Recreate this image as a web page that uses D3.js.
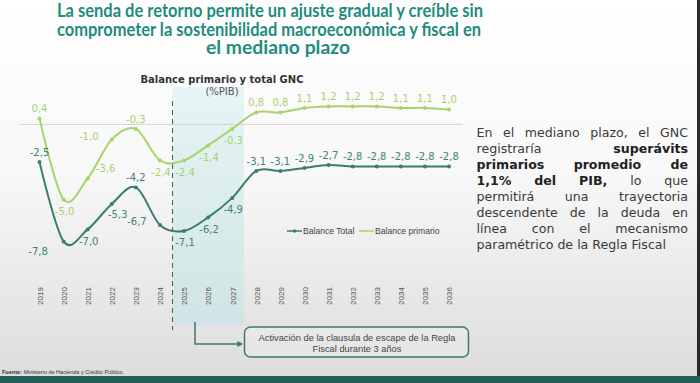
<!DOCTYPE html>
<html><head><meta charset="utf-8">
<script src="https://cdn.jsdelivr.net/npm/d3@7"></script>
<style>body{margin:0;background:#fff} svg{display:block}</style>
</head><body>
<svg id="c" width="700" height="383"></svg>
<script>
// ---------- data ----------
const years = [2019,2020,2021,2022,2023,2024,2025,2026,2027,2028,2029,2030,2031,2032,2033,2034,2035,2036];
const balanceTotal    = [-2.5,-7.8,-7.0,-5.3,-4.2,-6.7,-7.1,-6.2,-4.9,-3.1,-3.1,-2.9,-2.7,-2.8,-2.8,-2.8,-2.8,-2.8];
const balancePrimario = [0.4,-5.0,-3.6,-1.0,-0.3,-2.4,-2.4,-1.4,-0.3,0.8,0.8,1.1,1.2,1.2,1.2,1.1,1.1,1.0];
const seriesNames = ["Balance Total","Balance primario"];
const escapeYears = [2025,2027];
const titleLines = ["La senda de retorno permite un ajuste gradual y creíble sin",
                    "comprometer la sostenibilidad macroeconómica y fiscal en",
                    "el mediano plazo"];
const chartTitle = "Balance primario y total GNC";
const chartUnit = "(%PIB)";
const noteLines = ["Activación de la clausula de escape de la Regla","Fiscal durante 3 años"];
const sourceText = ["Fuente:"," Ministerio de Hacienda y Crédito Público."];
const sideText = [
  ["En","el","mediano","plazo,","el","GNC"],
  ["registraría","*superávits"],
  ["*primarios","*promedio","*de"],
  ["*1,1%","*del","*PIB,","lo","que"],
  ["permitirá","una","trayectoria"],
  ["descendente","de","la","deuda","en"],
  ["línea","con","el","mecanismo"],
  ["paramétrico","de","la","Regla","Fiscal"]
];
// label placement codes (t=above, b=below, l=left, bl=below-left, br=below-right, tr=above-right)
const totalLabelPos = ["t","bl","b","br","t","l","b","b","b","t","t","t","t","t","t","t","t","t"];
const primLabelPos  = ["t","b","tr","l","t","b","b","b","b","t","t","t","t","t","t","t","t","t"];

// ---------- drawing ----------
const svg = d3.select("#c");
const defs = svg.append("defs");
const bg = defs.append("linearGradient").attr("id","bg").attr("x1",0).attr("y1",0).attr("x2",0).attr("y2",1);
bg.append("stop").attr("offset","0").attr("stop-color","#ffffff");
bg.append("stop").attr("offset","0.45").attr("stop-color","#f8f8f8");
bg.append("stop").attr("offset","1").attr("stop-color","#dcdcdc");
const sh = defs.append("linearGradient").attr("id","sh").attr("x1",0).attr("y1",0).attr("x2",0).attr("y2",1);
sh.append("stop").attr("offset","0").attr("stop-color","#e3f4f4");
sh.append("stop").attr("offset","1").attr("stop-color","#cfe3e4");
defs.append("marker").attr("id","arr").attr("viewBox","0 0 10 10").attr("refX",8).attr("refY",5)
  .attr("markerWidth",4).attr("markerHeight",4).attr("orient","auto")
  .append("path").attr("d","M0,0L10,5L0,10z").attr("fill","#3c7a70");

svg.append("rect").attr("width",700).attr("height",383).attr("fill","url(#bg)");
svg.append("rect").attr("x",0).attr("y",376).attr("width",700).attr("height",7).attr("fill","#1f5f57");
svg.append("rect").attr("x",697).attr("y",0).attr("width",3).attr("height",376).attr("fill","#2a2a2a");

// title
const titleColor = "#1f8c7c";
const tg = svg.append("g").attr("font-family","Lato, 'Open Sans', sans-serif").attr("font-weight","bold")
  .attr("font-size",18).attr("fill",titleColor);
const tPos = [[57,17,426],[57,35.5,424],[206,54,144]];
titleLines.forEach((t,i)=>{
  tg.append("text").attr("x",tPos[i][0]).attr("y",tPos[i][1]).attr("textLength",tPos[i][2])
    .attr("lengthAdjust","spacingAndGlyphs").text(t);
});

// scales
const x = d3.scalePoint().domain(years).range([39.5,449]);
const y = d3.scaleLinear().domain([0,-7.8]).range([124.4,241.4]);

// escape shading
svg.append("rect").attr("x",x(escapeYears[0])-11.5).attr("y",87)
  .attr("width",x(escapeYears[1])-x(escapeYears[0])+23).attr("height",238)
  .attr("fill","url(#sh)").attr("opacity",0.9);
svg.append("line").attr("x1",x(escapeYears[0])-11.5).attr("x2",x(escapeYears[0])-11.5)
  .attr("y1",101).attr("y2",330).attr("stroke","#555").attr("stroke-width",1)
  .attr("stroke-dasharray","5,4");

// zero line
svg.append("line").attr("x1",20).attr("x2",463).attr("y1",y(0)).attr("y2",y(0))
  .attr("stroke","#d4d4d4").attr("stroke-width",1);

// chart title
svg.append("text").attr("x",222).attr("y",83).attr("text-anchor","middle")
  .attr("font-family","'DejaVu Sans', sans-serif").attr("font-weight","bold").attr("font-size",10.5)
  .attr("fill","#333").attr("textLength",163).attr("lengthAdjust","spacingAndGlyphs").text(chartTitle);
svg.append("text").attr("x",222).attr("y",95).attr("text-anchor","middle")
  .attr("font-family","'DejaVu Sans', sans-serif").attr("font-size",10)
  .attr("fill","#555").text(chartUnit);

// x axis labels
const xa = svg.append("g").attr("transform","translate(0,296)")
  .call(d3.axisBottom(x).tickSize(0).tickFormat(d3.format("d")));
xa.select(".domain").remove();
xa.selectAll(".tick text").attr("transform","rotate(-90)").attr("x",0).attr("y",0).attr("dy","0.35em")
  .attr("text-anchor","middle").attr("font-family","'Liberation Sans', Arial, sans-serif")
  .attr("font-size",8).attr("fill","#555");

const colTotal = "#3b7d71", colPrim = "#a6d46b";
const labTotal = "#44807a", labPrim = "#a9d06e";
const fmt = v => d3.format(".1f")(v).replace(".",",").replace("−","-");
const off = {t:[0,-6],b:[1,15.5],bl:[-25.5,14],br:[6,14],l:[-23,0.5],tr:[18,-6]};

function drawSeries(vals, col, labCol, pos){
  const pts = years.map((yr,i)=>[x(yr),y(vals[i])]);
  svg.append("path").attr("d",d3.line().curve(d3.curveCardinal.tension(0))(pts))
    .attr("fill","none").attr("stroke",col).attr("stroke-width",2);
  svg.append("g").selectAll("circle").data(pts).join("circle")
    .attr("cx",d=>d[0]).attr("cy",d=>d[1]).attr("r",2).attr("fill",col);
  svg.append("g").selectAll("text").data(vals).join("text")
    .attr("x",(d,i)=>pts[i][0]+off[pos[i]][0]).attr("y",(d,i)=>pts[i][1]+off[pos[i]][1])
    .attr("text-anchor","middle").attr("font-family","'DejaVu Sans', sans-serif").attr("font-size",10)
    .attr("fill",labCol).text(fmt);
}
drawSeries(balancePrimario,colPrim,labPrim,primLabelPos);
drawSeries(balanceTotal,colTotal,labTotal,totalLabelPos);

// legend
const lg = svg.append("g").attr("font-family","'Liberation Sans', Arial, sans-serif").attr("font-size",8.6).attr("fill","#444");
[[287,colTotal,true],[359,colPrim,false]].forEach((L,i)=>{
  lg.append("line").attr("x1",L[0]).attr("x2",L[0]+15).attr("y1",231).attr("y2",231).attr("stroke",L[1]).attr("stroke-width",1.5);
  if(L[2]) lg.append("circle").attr("cx",L[0]+7.5).attr("cy",231).attr("r",1.8).attr("fill",L[1]);
  lg.append("text").attr("x",L[0]+16).attr("y",234).text(seriesNames[i]);
});

// callout
svg.append("path").attr("d",`M195,322V344H242`).attr("fill","none").attr("stroke","#3c7a70")
  .attr("stroke-width",1.5).attr("marker-end","url(#arr)");
svg.append("rect").attr("x",244.5).attr("y",327).attr("width",224).attr("height",30).attr("rx",6)
  .attr("fill","rgba(235,235,235,0.6)").attr("stroke","#3c7a70").attr("stroke-width",1.5);
noteLines.forEach((t,i)=>{
  svg.append("text").attr("x",357).attr("y",340.5+i*11.5).attr("text-anchor","middle")
    .attr("font-family","'Liberation Sans', Arial, sans-serif").attr("font-size",9.3).attr("fill","#444").text(t);
});

// source
const st = svg.append("text").attr("x",2).attr("y",374).attr("font-family","'Liberation Sans', Arial, sans-serif")
  .attr("font-size",5.5).attr("fill","#333");
st.append("tspan").attr("font-weight","bold").text(sourceText[0]);
st.append("tspan").text(sourceText[1]);

// side paragraph (justified)
const px0 = 476.5, pw = 211.5, py0 = 137, lh = 15.95;
sideText.forEach((words,li)=>{
  const g = svg.append("g");
  const els = words.map(w=>{
    const b = w.startsWith("*");
    return g.append("text").attr("y",py0+li*lh).attr("font-family","'DejaVu Sans', sans-serif")
      .attr("font-size",12.6).attr("font-weight",b?"bold":"normal").attr("fill",b?"#222":"#3a3a3a")
      .text(b?w.slice(1):w);
  });
  const widths = els.map(e=>e.node().getComputedTextLength());
  const sum = d3.sum(widths);
  const last = li===sideText.length-1;
  const gap = last ? 12.6*0.318 : (pw-sum)/(words.length-1);
  let cx = px0;
  els.forEach((e,i)=>{ e.attr("x",cx); cx += widths[i]+gap; });
});
</script>
</body></html>
